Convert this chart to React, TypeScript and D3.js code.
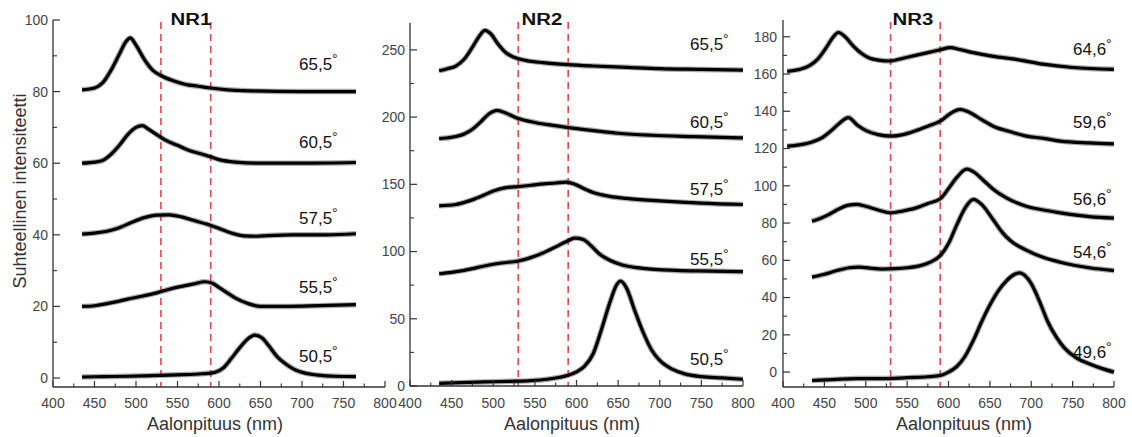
import React from "react";
import * as d3 from "d3";

// ---------- DATA ----------
// NR1
const NR1_655_NM = [435, 450, 460, 470, 480, 488, 493, 500, 510, 520, 530, 545, 560, 575, 590, 610, 640, 700, 765];
const NR1_655 = [80.5, 81, 82.5, 86, 90.5, 94, 95, 93, 89, 86, 84.5, 83, 82, 81.5, 81, 80.5, 80.2, 80, 80];
const NR1_605_NM = [435, 450, 460, 470, 480, 490, 500, 508, 515, 525, 535, 550, 565, 580, 590, 600, 620, 650, 700, 765];
const NR1_605 = [60, 60.3, 60.8, 62.5, 65, 68, 70, 70.5, 69.5, 68, 66.5, 65, 63.5, 62.5, 61.8, 61, 60.3, 60, 60, 60.2];
const NR1_575_NM = [435, 450, 465, 480, 495, 510, 525, 540, 555, 570, 585, 600, 615, 630, 645, 660, 690, 730, 765];
const NR1_575 = [40.2, 40.5, 41, 42, 43.5, 44.8, 45.5, 45.6, 45, 44, 43, 41.8, 40.5, 39.7, 39.6, 39.8, 40, 40, 40.3];
const NR1_555_NM = [435, 450, 465, 480, 495, 510, 525, 540, 555, 570, 583, 592, 600, 610, 620, 635, 650, 680, 720, 765];
const NR1_555 = [20, 20.2, 20.8, 21.5, 22.3, 23, 23.8, 24.8, 25.6, 26.3, 26.9, 26.5, 25.3, 23.8, 22.3, 20.8, 20, 20, 20.2, 20.5];
const NR1_505_NM = [435, 460, 490, 520, 550, 580, 595, 605, 615, 625, 635, 643, 652, 660, 670, 680, 690, 705, 720, 740, 765];
const NR1_505 = [0.3, 0.4, 0.5, 0.7, 0.9, 1.2, 1.6, 2.8, 5.5, 8.5, 11, 12, 11.2, 9, 6, 4, 2.5, 1.3, 0.8, 0.5, 0.4];

// NR2
const NR2_655_NM = [435, 445, 455, 465, 475, 483, 490, 497, 505, 515, 525, 540, 560, 590, 620, 660, 700, 750, 800];
const NR2_655 = [234.5, 236, 238, 243, 252, 260, 264.5, 262, 255, 248, 244.5, 242, 240.5, 239, 238, 237, 236, 235.5, 235];
const NR2_605_NM = [435, 450, 465, 475, 485, 495, 505, 515, 530, 550, 570, 590, 620, 650, 690, 740, 800];
const NR2_605 = [184, 185, 187.5, 191, 196.5, 202.5, 205, 203, 199, 196, 194, 192.2, 190, 188, 186.5, 185.5, 184.5];
const NR2_575_NM = [435, 455, 470, 485, 500, 515, 530, 545, 560, 575, 588, 598, 610, 622, 640, 660, 700, 750, 800];
const NR2_575 = [134, 135, 137.5, 141, 145, 147.5, 148.3, 149.3, 150.3, 151, 151.7, 150, 146.5, 143.5, 141, 139.5, 137.7, 136, 135];
const NR2_555_NM = [435, 450, 465, 480, 495, 510, 530, 545, 560, 575, 588, 598, 608, 618, 628, 640, 655, 680, 720, 760, 800];
const NR2_555 = [83.5, 84.5, 86, 88, 90, 91.5, 93, 95.5, 99, 103.5, 107.5, 110, 109, 104, 98, 93.5, 90, 87.5, 86, 85.5, 85];
const NR2_505_NM = [435, 460, 490, 520, 545, 565, 580, 590, 600, 610, 620, 630, 640, 648, 653, 660, 670, 680, 690, 700, 715, 730, 750, 775, 800];
const NR2_505 = [2, 2.5, 3, 3.5, 4, 5, 6.5, 8, 10.5, 15, 24, 42, 62, 75, 78, 73, 56, 40, 27, 19, 12.5, 9, 7, 6, 5];

// NR3
const NR3_646_NM = [405, 420, 432, 442, 452, 460, 467, 475, 485, 495, 505, 515, 529, 545, 560, 575, 590, 602, 615, 630, 654, 680, 714, 750, 800];
const NR3_646 = [161.5, 162.5, 164.5, 168, 174, 179.5, 182.3, 180, 175, 171, 168.5, 167.5, 167, 168.5, 170, 171.5, 173, 174.2, 173, 171.5, 169.5, 168, 165.3, 163.5, 162.5];
const NR3_596_NM = [405, 420, 435, 448, 458, 468, 479, 490, 501, 515, 531, 545, 560, 575, 590, 603, 614, 625, 640, 654, 675, 694, 715, 735, 770, 800];
const NR3_596 = [121.3, 122, 123.5, 126, 129.5, 133.5, 136.6, 132.5, 129.5, 127.5, 126.7, 127.5, 129.5, 132, 134.7, 139, 141, 139.5, 135.5, 132, 129, 126.7, 125.5, 124, 123, 122.5];
const NR3_566_NM = [435, 445, 455, 465, 478, 489, 500, 515, 530, 545, 560, 575, 590, 600, 610, 622, 632, 642, 654, 670, 694, 715, 735, 770, 800];
const NR3_566 = [81, 82.5, 84.5, 87, 89.5, 90, 89, 87, 85.5, 86.5, 88, 90.5, 93, 98.5, 104.5, 109, 107, 103, 98.2, 93.5, 89, 87, 85.5, 83.5, 82.7];
const NR3_546_NM = [435, 450, 465, 480, 492, 505, 520, 535, 550, 565, 578, 590, 600, 610, 620, 630, 640, 654, 665, 675, 694, 715, 735, 770, 800];
const NR3_546 = [51, 52.5, 54.5, 56, 56.4, 55.8, 55.3, 55.5, 56, 57, 59, 62.5, 69, 79, 88, 92.7, 90, 81.8, 75, 70.5, 65.5, 61.5, 59, 56, 54.5];
const NR3_496_NM = [435, 460, 490, 520, 550, 575, 590, 600, 610, 620, 630, 640, 650, 660, 670, 680, 686, 692, 700, 710, 720, 730, 740, 755, 770, 785, 800];
const NR3_496 = [-4.5, -4, -3.5, -3.5, -3, -2.5, -1.8, 0, 3, 8.5, 17, 27, 36, 43.5, 49, 52.5, 53.3, 52, 47.5, 38, 27, 19, 13, 7.5, 4.5, 2, 0];

const PANEL_TITLES = ["NR1", "NR2", "NR3"];
const NR1_LABELS = ["65,5", "60,5", "57,5", "55,5", "50,5"];
const NR2_LABELS = ["65,5", "60,5", "57,5", "55,5", "50,5"];
const NR3_LABELS = ["64,6", "59,6", "56,6", "54,6", "49,6"];
const X_TICKS = [400, 450, 500, 550, 600, 650, 700, 750, 800];
const X_MINOR = [425, 475, 525, 575, 625, 675, 725, 775];
const NR1_Y_TICKS = [0, 20, 40, 60, 80, 100];
const NR1_Y_MINOR = [10, 30, 50, 70, 90];
const NR2_Y_TICKS = [0, 50, 100, 150, 200, 250];
const NR2_Y_MINOR = [25, 75, 125, 175, 225];
const NR3_Y_TICKS = [0, 20, 40, 60, 80, 100, 120, 140, 160, 180];
const NR3_Y_MINOR = [10, 30, 50, 70, 90, 110, 130, 150, 170];
const MARKERS = [530, 590];
const X_TITLE = "Aalonpituus (nm)";
const Y_TITLE = "Suhteellinen intensiteetti";

// ---------- LAYOUT ----------
const FONT = "'Liberation Sans', Arial, Helvetica, sans-serif";

const panels = [
  {
    title: PANEL_TITLES[0], left: 53, right: 385, top: 20, bottom: 387, yDomain: [-2.5, 100],
    yTicks: NR1_Y_TICKS, yMinor: NR1_Y_MINOR, titleX: 191, xTitleX: 215, labelX: 299, tickGap: 5,
    series: [
      { nm: NR1_655_NM, v: NR1_655, label: NR1_LABELS[0], ly: 70 },
      { nm: NR1_605_NM, v: NR1_605, label: NR1_LABELS[1], ly: 148 },
      { nm: NR1_575_NM, v: NR1_575, label: NR1_LABELS[2], ly: 224 },
      { nm: NR1_555_NM, v: NR1_555, label: NR1_LABELS[3], ly: 293 },
      { nm: NR1_505_NM, v: NR1_505, label: NR1_LABELS[4], ly: 362 },
    ],
  },
  {
    title: PANEL_TITLES[1], left: 410, right: 743, top: 23, bottom: 386, yDomain: [0, 270],
    yTicks: NR2_Y_TICKS, yMinor: NR2_Y_MINOR, titleX: 542, xTitleX: 572, labelX: 690, tickGap: 5,
    series: [
      { nm: NR2_655_NM, v: NR2_655, label: NR2_LABELS[0], ly: 50 },
      { nm: NR2_605_NM, v: NR2_605, label: NR2_LABELS[1], ly: 128 },
      { nm: NR2_575_NM, v: NR2_575, label: NR2_LABELS[2], ly: 195 },
      { nm: NR2_555_NM, v: NR2_555, label: NR2_LABELS[3], ly: 265 },
      { nm: NR2_505_NM, v: NR2_505, label: NR2_LABELS[4], ly: 365 },
    ],
  },
  {
    title: PANEL_TITLES[2], left: 783, right: 1114, top: 20, bottom: 387, yDomain: [-8, 189],
    yTicks: NR3_Y_TICKS, yMinor: NR3_Y_MINOR, titleX: 913, xTitleX: 964, labelX: 1073, tickGap: 6,
    series: [
      { nm: NR3_646_NM, v: NR3_646, label: NR3_LABELS[0], ly: 55 },
      { nm: NR3_596_NM, v: NR3_596, label: NR3_LABELS[1], ly: 128 },
      { nm: NR3_566_NM, v: NR3_566, label: NR3_LABELS[2], ly: 205 },
      { nm: NR3_546_NM, v: NR3_546, label: NR3_LABELS[3], ly: 258 },
      { nm: NR3_496_NM, v: NR3_496, label: NR3_LABELS[4], ly: 358 },
    ],
  },
];

function Panel({ p }: { p: any }) {
  const x = d3.scaleLinear().domain([400, 800]).range([p.left, p.right]);
  const y = d3.scaleLinear().domain(p.yDomain).range([p.bottom, p.top]);
  const line = d3
    .line<[number, number]>()
    .x((d) => x(d[0]))
    .y((d) => y(d[1]))
    .curve(d3.curveMonotoneX);
  const axisColor = "#333";
  return (
    <g>
      {MARKERS.map((m) => (
        <line key={m} x1={x(m)} x2={x(m)} y1={22} y2={p.bottom} stroke="#e8454a" strokeWidth={1.6} strokeDasharray="7,5" />
      ))}
      {p.series.map((s: any, i: number) => {
        const pts: [number, number][] = s.nm.map((n: number, k: number) => [n, s.v[k]]);
        const dPath = line(pts) || "";
        return (
          <g key={i}>
            <path d={dPath} fill="none" stroke="#444" strokeOpacity={0.45} strokeWidth={5.5} strokeLinejoin="round" />
            <path d={dPath} fill="none" stroke="#000" strokeWidth={3.2} strokeLinejoin="round" />
          </g>
        );
      })}
      <line x1={p.left} x2={p.left} y1={p.top} y2={p.bottom} stroke={axisColor} strokeWidth={1.3} />
      <line x1={p.left} x2={p.right} y1={p.bottom} y2={p.bottom} stroke={axisColor} strokeWidth={1.3} />
      {p.yTicks.map((t: number) => (
        <g key={"y" + t}>
          <line x1={p.left} x2={p.left + 7} y1={y(t)} y2={y(t)} stroke={axisColor} strokeWidth={1.2} />
          <text x={p.left - p.tickGap} y={y(t)} dy="0.35em" textAnchor="end" fontSize={14} fill="#444" fontFamily={FONT}>
            {t}
          </text>
        </g>
      ))}
      {p.yMinor.map((t: number) => (
        <line key={"ym" + t} x1={p.left} x2={p.left + 4} y1={y(t)} y2={y(t)} stroke={axisColor} strokeWidth={1.1} />
      ))}
      {X_TICKS.map((t) => (
        <g key={"x" + t}>
          <line x1={x(t)} x2={x(t)} y1={p.bottom} y2={p.bottom - 6} stroke={axisColor} strokeWidth={1.2} />
          <text x={x(t)} y={408} textAnchor="middle" fontSize={14} fill="#444" fontFamily={FONT}>
            {t}
          </text>
        </g>
      ))}
      {X_MINOR.map((t) => (
        <line key={"xm" + t} x1={x(t)} x2={x(t)} y1={p.bottom} y2={p.bottom - 3.5} stroke={axisColor} strokeWidth={1.1} />
      ))}
      {p.series.map((s: any, i: number) => (
        <text key={"l" + i} x={p.labelX} y={s.ly} fontSize={17} fill="#111" fontFamily={FONT}>
          {s.label}
          <tspan fontSize={14} dy={-6}>°</tspan>
        </text>
      ))}
      <text
        transform={`translate(${p.titleX},25) scale(1.2,1)`}
        textAnchor="middle"
        fontSize={17}
        fontWeight="bold"
        fill="#111"
        fontFamily={FONT}
      >
        {p.title}
      </text>
      <text x={p.xTitleX} y={430} textAnchor="middle" fontSize={18} fill="#333" fontFamily={FONT}>
        {X_TITLE}
      </text>
    </g>
  );
}

export default function App() {
  return (
    <svg
      width={1132}
      height={437}
      viewBox="0 0 1132 437"
      style={{ position: "absolute", left: 0, top: 0, background: "#fff" }}
    >
      <rect width={1132} height={437} fill="#fff" />
      {panels.map((p, i) => (
        <Panel key={i} p={p} />
      ))}
      <text
        transform="translate(26,191) rotate(-90)"
        textAnchor="middle"
        fontSize={18}
        fill="#333"
        fontFamily={FONT}
      >
        {Y_TITLE}
      </text>
    </svg>
  );
}
